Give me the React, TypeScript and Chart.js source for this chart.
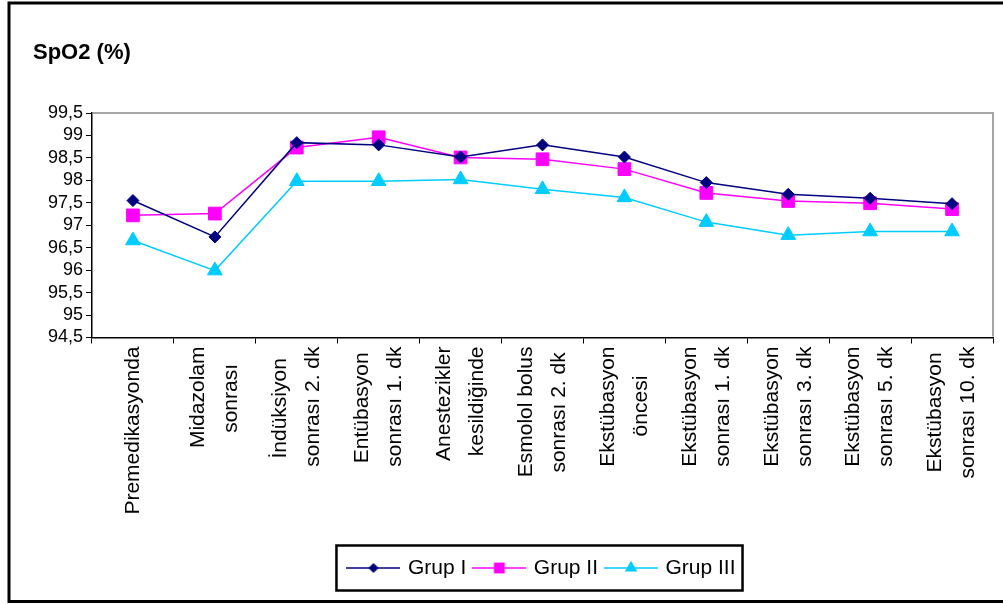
import React, { useEffect, useRef } from 'react';
import { Chart, registerables } from 'chart.js';

Chart.register(...registerables);

const categories: (string | string[])[] = [
  'Premedikasyonda',
  ['Midazolam', 'sonrası'],
  ['İndüksiyon', 'sonrası 2. dk'],
  ['Entübasyon', 'sonrası 1. dk'],
  ['Anestezikler', 'kesildiğinde'],
  ['Esmolol bolus', 'sonrası 2. dk'],
  ['Ekstübasyon', 'öncesi'],
  ['Ekstübasyon', 'sonrası 1. dk'],
  ['Ekstübasyon', 'sonrası 3. dk'],
  ['Ekstübasyon', 'sonrası 5. dk'],
  ['Ekstübasyon', 'sonrası 10. dk'],
];

const grupI = [97.55, 96.74, 98.84, 98.79, 98.52, 98.79, 98.52, 97.95, 97.69, 97.6, 97.48];
const grupII = [97.22, 97.26, 98.73, 98.96, 98.51, 98.47, 98.25, 97.72, 97.54, 97.49, 97.36];
const grupIII = [96.66, 95.99, 97.98, 97.98, 98.02, 97.8, 97.62, 97.07, 96.78, 96.86, 96.86];

const yTickLabels = ['94,5', '95', '95,5', '96', '96,5', '97', '97,5', '98', '98,5', '99', '99,5'];
const seriesNames = ['Grup I', 'Grup II', 'Grup III'];
const titleText = 'SpO2 (%)';

const FONT = "'Liberation Sans', Arial, Helvetica, sans-serif";
const COLORS = ['#000080', '#FF00FF', '#00CCFF'];
const STYLES = ['rectRot', 'rect', 'triangle'];
const RADII = [6, 9, 8.5];
const X_FONT_SIZE = 21;
const X_LINE = 33;

function makeIcon(color: string, style: string, r: number): HTMLCanvasElement {
  const c = document.createElement('canvas');
  c.width = 54;
  c.height = 22;
  const ctx = c.getContext('2d')!;
  const cx = 27;
  const cy = 11;
  ctx.strokeStyle = color;
  ctx.lineWidth = 1.5;
  ctx.beginPath();
  ctx.moveTo(0, cy);
  ctx.lineTo(54, cy);
  ctx.stroke();
  ctx.fillStyle = color;
  ctx.beginPath();
  if (style === 'rectRot') {
    ctx.moveTo(cx, cy - r);
    ctx.lineTo(cx + r, cy);
    ctx.lineTo(cx, cy + r);
    ctx.lineTo(cx - r, cy);
  } else if (style === 'rect') {
    const s = r / Math.SQRT2;
    ctx.rect(cx - s, cy - s, 2 * s, 2 * s);
  } else {
    ctx.moveTo(cx, cy - r);
    ctx.lineTo(cx + r * Math.sin(Math.PI / 3), cy + r / 2);
    ctx.lineTo(cx - r * Math.sin(Math.PI / 3), cy + r / 2);
  }
  ctx.closePath();
  ctx.fill();
  return c;
}

// Centre the shorter line of each two-line label along the rotated text direction
function buildTickLabels(cats: (string | string[])[]): string[][] {
  const m = document.createElement('canvas').getContext('2d')!;
  m.font = `${X_FONT_SIZE}px ${FONT}`;
  const sp = m.measureText(' ').width;
  return cats.map((c) => {
    if (!Array.isArray(c)) return ['', c];
    const widths = c.map((s) => m.measureText(s).width);
    const max = Math.max(...widths);
    return c.map((s, i) => s + ' '.repeat(Math.max(0, Math.round((max - widths[i]) / 2 / sp))));
  });
}

const framePlugin = {
  id: 'frame',
  beforeDraw(chart: any) {
    const ctx = chart.ctx;
    ctx.save();
    ctx.fillStyle = '#ffffff';
    ctx.fillRect(0, 0, chart.width, chart.height);
    ctx.strokeStyle = '#000000';
    ctx.lineWidth = 3;
    ctx.beginPath();
    ctx.moveTo(chart.width + 10, 3);
    ctx.lineTo(9, 3);
    ctx.lineTo(9, 601.5);
    ctx.lineTo(chart.width + 10, 601.5);
    ctx.stroke();
    ctx.restore();
  },
  beforeDatasetsDraw(chart: any) {
    const { ctx, chartArea } = chart;
    ctx.save();
    ctx.strokeStyle = '#a6a6a6';
    ctx.lineWidth = 2;
    ctx.beginPath();
    ctx.moveTo(chartArea.left + 1, chartArea.top);
    ctx.lineTo(chartArea.right, chartArea.top);
    ctx.lineTo(chartArea.right, chartArea.bottom - 1);
    ctx.stroke();
    ctx.restore();
  },
  afterDraw(chart: any) {
    const legend = chart.legend;
    if (!legend || !legend.legendHitBoxes || !legend.legendHitBoxes.length) return;
    const hb = legend.legendHitBoxes;
    const first = hb[0];
    const last = hb[hb.length - 1];
    const cy = first.top + first.height / 2;
    const left = first.left - 13;
    const right = last.left + last.width + 7;
    const ctx = chart.ctx;
    ctx.save();
    ctx.strokeStyle = '#000000';
    ctx.lineWidth = 2.5;
    ctx.strokeRect(left, cy - 22.5, right - left, 45);
    ctx.restore();
  },
};

export default function App() {
  const canvasRef = useRef<HTMLCanvasElement | null>(null);

  useEffect(() => {
    if (!canvasRef.current) return;
    const icons = COLORS.map((c, i) => makeIcon(c, STYLES[i], RADII[i] * 0.85));
    const tickLabels = buildTickLabels(categories);
    const seriesData = [grupI, grupII, grupIII];
    const chart = new Chart(canvasRef.current, {
      type: 'line',
      data: {
        labels: categories,
        datasets: seriesNames.map((name, i) => ({
          label: name,
          data: seriesData[i],
          borderColor: COLORS[i],
          backgroundColor: COLORS[i],
          borderWidth: 1.5,
          pointStyle: STYLES[i] as any,
          pointRadius: RADII[i],
          pointBackgroundColor: COLORS[i],
          pointBorderColor: COLORS[i],
          pointBorderWidth: 1,
          tension: 0,
          fill: false,
        })),
      },
      options: {
        responsive: false,
        animation: false,
        events: [],
        layout: { padding: { left: 33, right: 10, top: 0, bottom: 15.5 } },
        scales: {
          x: {
            type: 'category',
            offset: true,
            grid: {
              display: true,
              offset: true,
              drawOnChartArea: false,
              drawTicks: true,
              tickLength: 6,
              color: '#000000',
              lineWidth: 1,
            },
            border: { display: true, color: '#000000', width: 1.5 },
            ticks: {
              autoSkip: false,
              maxRotation: 90,
              minRotation: 90,
              padding: 3,
              labelOffset: -X_LINE / 2,
              color: '#000000',
              callback: (_v: any, i: number) => tickLabels[i],
              font: (ctx: any) => ({
                family: FONT,
                size: X_FONT_SIZE,
                lineHeight: ctx.index === 0 ? X_LINE / 2 / X_FONT_SIZE : X_LINE / X_FONT_SIZE,
              }),
            },
            afterFit(scale: any) {
              scale.height = 211;
              scale.paddingLeft = 0;
              scale.paddingRight = 0;
            },
          },
          y: {
            min: 94.5,
            max: 99.5,
            grid: {
              display: true,
              drawOnChartArea: false,
              drawTicks: true,
              tickLength: 6,
              color: '#000000',
              lineWidth: 1,
            },
            border: { display: true, color: '#000000', width: 1.5 },
            ticks: {
              autoSkip: false,
              stepSize: 0.5,
              padding: 3,
              color: '#000000',
              font: { family: FONT, size: 18, lineHeight: 1 },
              callback: (value: any) => {
                const idx = Math.round((Number(value) - 94.5) / 0.5);
                return yTickLabels[idx] ?? '';
              },
            },
            afterFit(scale: any) {
              scale.width = 59;
            },
          },
        },
        plugins: {
          title: {
            display: true,
            text: titleText,
            align: 'start',
            color: '#000000',
            font: { family: FONT, size: 22, weight: 'bold', lineHeight: 1.2 },
            padding: { top: 40, bottom: 46.6 },
          },
          legend: {
            display: true,
            position: 'bottom',
            fullSize: false,
            labels: {
              usePointStyle: true,
              pointStyleWidth: 48,
              padding: 9,
              color: '#000000',
              font: { family: FONT, size: 21 },
              generateLabels: (ch: any) =>
                ch.data.datasets.map((ds: any, i: number) => ({
                  text: ds.label,
                  pointStyle: icons[i],
                  fillStyle: COLORS[i],
                  strokeStyle: COLORS[i],
                  fontColor: '#000000',
                  lineWidth: 0,
                  hidden: false,
                  datasetIndex: i,
                })),
            },
          },
          tooltip: { enabled: false },
        },
      },
      plugins: [framePlugin],
    });
    return () => chart.destroy();
  }, []);

  return (
    <div style={{ position: 'fixed', left: 0, top: 0, width: 1003, height: 604, background: '#fff' }}>
      <canvas ref={canvasRef} width={1003} height={604} style={{ display: 'block', width: 1003, height: 604 }} />
    </div>
  );
}
